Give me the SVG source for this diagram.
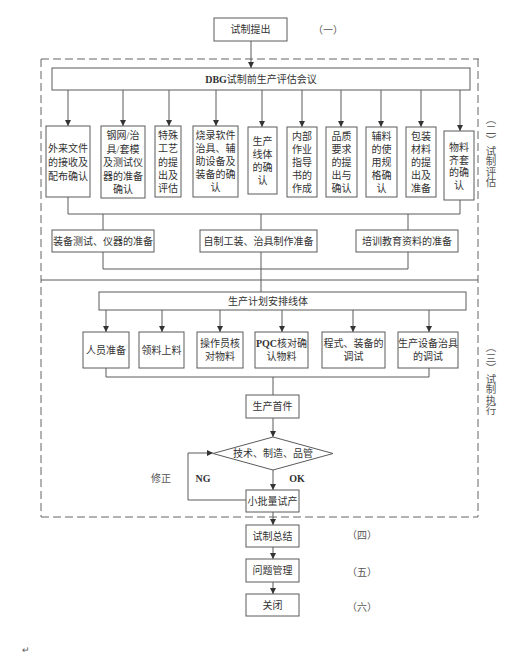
<svg xmlns="http://www.w3.org/2000/svg" width="520" height="662" viewBox="0 0 520 662">
<style>
.bx{fill:#fff;stroke:#5a5a5a;stroke-width:1}
.t{font-family:"Liberation Serif","Noto Sans CJK SC",serif;font-size:10px;fill:#333;text-anchor:middle;dominant-baseline:central}
.b{font-weight:bold}
.lb{font-family:"Liberation Serif","Noto Sans CJK SC",serif;font-size:10px;fill:#555;text-anchor:middle;dominant-baseline:central}
.ln{fill:none;stroke:#5a5a5a;stroke-width:1}
.ar{fill:none;stroke:#5a5a5a;stroke-width:1;marker-end:url(#ah)}
.ds{fill:none;stroke:#666;stroke-width:1;stroke-dasharray:8 4}
.vt{font-family:"Noto Sans CJK SC",sans-serif;font-size:10.5px;fill:#555;writing-mode:tb}
</style>
<defs>
<marker id="ah" markerUnits="userSpaceOnUse" markerWidth="7" markerHeight="7" refX="6" refY="3" orient="auto">
<path d="M0,0 L6,3 L0,6 z" fill="#333"/>
</marker>
</defs>
<rect width="520" height="662" fill="#fff"/>

<g id="frames">
<path class="ds" d="M41,59 H479 M41,59 V517 M478,59 V517 M41,517 H478"/>
<line class="ln" x1="41" y1="280" x2="478" y2="280"/>
</g>

<g id="connectors">
<line class="ar" x1="251" y1="41" x2="251" y2="68"/>
<line class="ar" x1="68" y1="90" x2="68" y2="126"/>
<line class="ar" x1="123" y1="90" x2="123" y2="126"/>
<line class="ar" x1="169" y1="90" x2="169" y2="126"/>
<line class="ar" x1="216" y1="90" x2="216" y2="126"/>
<line class="ar" x1="262" y1="90" x2="262" y2="127"/>
<line class="ar" x1="302" y1="90" x2="302" y2="127"/>
<line class="ar" x1="341" y1="90" x2="341" y2="127"/>
<line class="ar" x1="381" y1="90" x2="381" y2="127"/>
<line class="ar" x1="421" y1="90" x2="421" y2="127"/>
<line class="ar" x1="460" y1="90" x2="460" y2="131"/>
<path class="ln" d="M68,197 V214 H460 V200"/>
<path class="ln" d="M103,214 V230 M261,214 V230 M408,214 V230"/>
<path class="ln" d="M103,252 V269 H408 V252 M261,252 V269 M261,269 V292"/>
<line class="ar" x1="106" y1="310" x2="106" y2="332"/>
<line class="ar" x1="162" y1="310" x2="162" y2="332"/>
<line class="ar" x1="220" y1="310" x2="220" y2="332"/>
<line class="ar" x1="282" y1="310" x2="282" y2="332"/>
<line class="ar" x1="353" y1="310" x2="353" y2="332"/>
<line class="ar" x1="429" y1="310" x2="429" y2="332"/>
<path class="ln" d="M106,368 V377 H429 V368 M273,377 V395"/>
<line class="ar" x1="273" y1="418" x2="273" y2="437"/>
<line class="ar" x1="273" y1="470" x2="273" y2="490"/>
<path class="ar" d="M246,500 H188 V453 H213"/>
<line class="ar" x1="273" y1="512" x2="273" y2="525"/>
<line class="ar" x1="273" y1="547" x2="273" y2="559"/>
<line class="ar" x1="273" y1="582" x2="273" y2="594"/>
</g>

<g id="n-start"><rect class="bx" x="214" y="18" width="73" height="23"/><text class="t" x="250.5" y="29.5">试制提出</text></g>
<g id="n-dbg"><rect class="bx" x="52" y="68" width="418" height="22"/><text class="t" x="261" y="79"><tspan class="b">DBG</tspan>试制前生产评估会议</text></g>

<g id="n-e1"><rect class="bx" x="46" y="126" width="44" height="71"/><text class="t"><tspan x="68" y="147.5">外来文件</tspan><tspan x="68" y="161.5">的接收及</tspan><tspan x="68" y="175.5">配布确认</tspan></text></g>
<g id="n-e2"><rect class="bx" x="101" y="126" width="44" height="72"/><text class="t"><tspan x="123" y="135">钢网/治</tspan><tspan x="123" y="148.5">具/套模</tspan><tspan x="123" y="162">及测试仪</tspan><tspan x="123" y="175.5">器的准备</tspan><tspan x="123" y="189">确认</tspan></text></g>
<g id="n-e3"><rect class="bx" x="155" y="126" width="26" height="71"/><text class="t"><tspan x="168" y="135">特殊</tspan><tspan x="168" y="148">工艺</tspan><tspan x="168" y="161.5">的提</tspan><tspan x="168" y="175">出及</tspan><tspan x="168" y="188">评估</tspan></text></g>
<g id="n-e4"><rect class="bx" x="193" y="126" width="45" height="71"/><text class="t"><tspan x="215.5" y="135">烧录软件</tspan><tspan x="215.5" y="148">治具、辅</tspan><tspan x="215.5" y="161">助设备及</tspan><tspan x="215.5" y="174">装备的确</tspan><tspan x="215.5" y="187">认</tspan></text></g>
<g id="n-e5"><rect class="bx" x="248" y="127" width="29" height="67"/><text class="t"><tspan x="262.5" y="141">生产</tspan><tspan x="262.5" y="154">线体</tspan><tspan x="262.5" y="167">的确</tspan><tspan x="262.5" y="180">认</tspan></text></g>
<g id="n-e6"><rect class="bx" x="287" y="127" width="30" height="70"/><text class="t"><tspan x="302" y="136">内部</tspan><tspan x="302" y="149">作业</tspan><tspan x="302" y="162">指导</tspan><tspan x="302" y="175">书的</tspan><tspan x="302" y="188">作成</tspan></text></g>
<g id="n-e7"><rect class="bx" x="326" y="127" width="31" height="70"/><text class="t"><tspan x="341.5" y="136">品质</tspan><tspan x="341.5" y="149">要求</tspan><tspan x="341.5" y="162">的提</tspan><tspan x="341.5" y="175">出与</tspan><tspan x="341.5" y="188">确认</tspan></text></g>
<g id="n-e8"><rect class="bx" x="366" y="127" width="31" height="70"/><text class="t"><tspan x="381.5" y="136">辅料</tspan><tspan x="381.5" y="149">的使</tspan><tspan x="381.5" y="162">用规</tspan><tspan x="381.5" y="175">格确</tspan><tspan x="381.5" y="188">认</tspan></text></g>
<g id="n-e9"><rect class="bx" x="406" y="127" width="30" height="70"/><text class="t"><tspan x="421" y="136">包装</tspan><tspan x="421" y="149">材料</tspan><tspan x="421" y="162">的提</tspan><tspan x="421" y="175">出及</tspan><tspan x="421" y="188">准备</tspan></text></g>
<g id="n-e10"><rect class="bx" x="444" y="131" width="30" height="69"/><text class="t"><tspan x="459" y="147">物料</tspan><tspan x="459" y="159.5">齐套</tspan><tspan x="459" y="172">的确</tspan><tspan x="459" y="184.5">认</tspan></text></g>

<g id="n-p1"><rect class="bx" x="52" y="230" width="102" height="22"/><text class="t" x="103" y="241">装备测试、仪器的准备</text></g>
<g id="n-p2"><rect class="bx" x="200" y="230" width="117" height="22"/><text class="t" x="258.5" y="241">自制工装、治具制作准备</text></g>
<g id="n-p3"><rect class="bx" x="356" y="230" width="102" height="22"/><text class="t" x="407" y="241">培训教育资料的准备</text></g>

<g id="n-plan"><rect class="bx" x="99" y="292" width="367" height="18"/><text class="t" x="268" y="301">生产计划安排线体</text></g>

<g id="n-r1"><rect class="bx" x="83" y="332" width="46" height="36"/><text class="t" x="106" y="350">人员准备</text></g>
<g id="n-r2"><rect class="bx" x="139" y="332" width="45" height="36"/><text class="t" x="161.5" y="350">领料上料</text></g>
<g id="n-r3"><rect class="bx" x="197" y="332" width="46" height="36"/><text class="t"><tspan x="220" y="343">操作员核</tspan><tspan x="220" y="356">对物料</tspan></text></g>
<g id="n-r4"><rect class="bx" x="255" y="332" width="53" height="36"/><text class="t"><tspan x="281.5" y="343"><tspan class="b">PQC</tspan>核对确</tspan><tspan x="281.5" y="356">认物料</tspan></text></g>
<g id="n-r5"><rect class="bx" x="322" y="332" width="63" height="36"/><text class="t"><tspan x="353.5" y="343">程式、装备的</tspan><tspan x="353.5" y="356">调试</tspan></text></g>
<g id="n-r6"><rect class="bx" x="398" y="332" width="60" height="36"/><text class="t"><tspan x="428" y="343">生产设备治具</tspan><tspan x="428" y="356">的调试</tspan></text></g>

<g id="n-first"><rect class="bx" x="246" y="395" width="53" height="23"/><text class="t" x="272.5" y="406.5">生产首件</text></g>
<g id="n-check"><polygon class="bx" points="273,437 333,453.5 273,470 213,453.5"/><text class="t" x="273" y="453.5">技术、制造、品管</text></g>
<g id="n-small"><rect class="bx" x="246" y="490" width="53" height="22"/><text class="t" x="272.5" y="501">小批量试产</text></g>
<g id="n-sum"><rect class="bx" x="246" y="525" width="53" height="22"/><text class="t" x="272.5" y="536">试制总结</text></g>
<g id="n-issue"><rect class="bx" x="246" y="559" width="53" height="23"/><text class="t" x="272.5" y="570.5">问题管理</text></g>
<g id="n-close"><rect class="bx" x="246" y="594" width="53" height="22"/><text class="t" x="272.5" y="605">关闭</text></g>

<g id="labels">
<text class="lb" x="328" y="30">（一）</text>
<text class="lb" x="362" y="535">（四）</text>
<text class="lb" x="362" y="572">（五）</text>
<text class="lb" x="362" y="607">（六）</text>
<text class="t b" x="203" y="478">NG</text>
<text class="t b" x="297" y="478">OK</text>
<text class="lb" x="161" y="478">修正</text>
<text class="vt" x="491" y="114">（二）试制评估</text>
<text class="vt" x="491" y="342">（三）试制执行</text>
<text class="lb" x="26" y="650" style="font-size:9px">↵</text>
</g>
</svg>
